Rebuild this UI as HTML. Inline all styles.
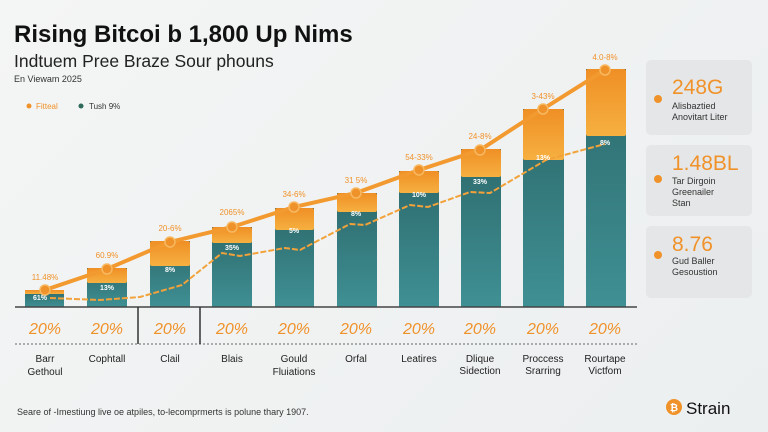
<!DOCTYPE html>
<html><head><meta charset="utf-8"><style>
body{margin:0;width:768px;height:432px;overflow:hidden;background:linear-gradient(135deg,#f4f5f5,#eceff0);font-family:"Liberation Sans",sans-serif}
svg{position:absolute;left:0;top:0}
</style></head><body>
<svg width="768" height="432" viewBox="0 0 768 432">
<defs>
<linearGradient id="or" x1="0" y1="0" x2="0" y2="1"><stop offset="0" stop-color="#ef8f25"/><stop offset="1" stop-color="#f6b040"/></linearGradient>
<linearGradient id="te" x1="0" y1="0" x2="0" y2="1"><stop offset="0" stop-color="#2d6a6c"/><stop offset="1" stop-color="#3f9094"/></linearGradient>
</defs>
<text x="14" y="42" font-size="24" font-weight="bold" fill="#111">Rising Bitcoi b 1,800 Up Nims</text>
<text x="14" y="67" font-size="17.5" fill="#222">Indtuem Pree Braze Sour phouns</text>
<text x="14" y="82" font-size="9" fill="#333">En Viewam 2025</text>
<circle cx="29" cy="106" r="2.5" fill="#f0922a"/><text x="36" y="109" font-size="8" fill="#f0922a">Fitteal</text>
<circle cx="81" cy="106" r="2.5" fill="#2d6a5a"/><text x="89" y="109" font-size="8" fill="#333">Tush 9%</text>
<g id="bars">
<rect x="25" y="290" width="39" height="17" fill="url(#te)"/><rect x="25" y="290" width="39" height="4" fill="url(#or)"/>
<rect x="87" y="268" width="40" height="39" fill="url(#te)"/><rect x="87" y="268" width="40" height="15" fill="url(#or)" rx="2"/>
<rect x="150" y="241" width="40" height="66" fill="url(#te)"/><rect x="150" y="241" width="40" height="25" fill="url(#or)" rx="2"/>
<rect x="212" y="227" width="40" height="80" fill="url(#te)"/><rect x="212" y="227" width="40" height="16" fill="url(#or)" rx="2"/>
<rect x="275" y="208" width="39" height="99" fill="url(#te)"/><rect x="275" y="208" width="39" height="22" fill="url(#or)" rx="2"/>
<rect x="337" y="193" width="40" height="114" fill="url(#te)"/><rect x="337" y="193" width="40" height="19" fill="url(#or)" rx="2"/>
<rect x="399" y="171" width="40" height="136" fill="url(#te)"/><rect x="399" y="171" width="40" height="22" fill="url(#or)" rx="2"/>
<rect x="461" y="149" width="40" height="158" fill="url(#te)"/><rect x="461" y="149" width="40" height="28" fill="url(#or)" rx="2"/>
<rect x="523" y="109" width="41" height="198" fill="url(#te)"/><rect x="523" y="109" width="41" height="51" fill="url(#or)" rx="2"/>
<rect x="586" y="69" width="40" height="238" fill="url(#te)"/><rect x="586" y="69" width="40" height="67" fill="url(#or)" rx="2"/>
</g>
<polyline points="45,290 107,269 170,242 232,227 294,207 356,193 419,170 480,150 543,109 605,70" fill="none" stroke="#f29a30" stroke-width="4"/>
<g fill="#f0922a" stroke="#f7b860" stroke-width="1.5">
<circle cx="45" cy="290" r="5"/><circle cx="107" cy="269" r="5"/><circle cx="170" cy="242" r="5"/><circle cx="232" cy="227" r="5"/><circle cx="294" cy="207" r="5"/><circle cx="356" cy="193" r="5"/><circle cx="419" cy="170" r="5"/><circle cx="480" cy="150" r="5"/><circle cx="543" cy="109" r="5"/><circle cx="605" cy="70" r="5"/></g>
<polyline points="50,298 100,300 140,297 182,285 222,253 240,256 285,248 300,250 350,224 365,225 410,205 428,207 470,192 490,193 546,160 590,148 605,144" fill="none" stroke="#f2a23a" stroke-width="2" stroke-dasharray="6,2"/>
<g font-size="8" fill="#f0922a" text-anchor="middle">
<text x="45" y="280">11.48%</text><text x="107" y="258">60.9%</text><text x="170" y="231">20-6%</text><text x="232" y="215">2065%</text><text x="294" y="197">34-6%</text><text x="356" y="183">31 5%</text><text x="419" y="160">54-33%</text><text x="480" y="139">24-8%</text><text x="543" y="99">3-43%</text><text x="605" y="60">4.0-8%</text></g>
<g font-size="7" fill="#fff" text-anchor="middle" font-weight="bold">
<text x="40" y="300">61%</text><text x="107" y="290">13%</text><text x="170" y="272">8%</text><text x="232" y="250">35%</text><text x="294" y="233">5%</text><text x="356" y="216">8%</text><text x="419" y="197">10%</text><text x="480" y="184">33%</text><text x="543" y="160">13%</text><text x="605" y="145">8%</text></g>
<line x1="15" y1="307" x2="637" y2="307" stroke="#444" stroke-width="1.5"/>
<line x1="15" y1="344" x2="637" y2="344" stroke="#666" stroke-width="1" stroke-dasharray="2,2"/>
<line x1="138" y1="307" x2="138" y2="344" stroke="#333" stroke-width="1.5"/>
<line x1="200" y1="307" x2="200" y2="344" stroke="#333" stroke-width="1.5"/>
<g font-size="16" fill="#f0922a" font-style="italic" text-anchor="middle">
<text x="45" y="334">20%</text><text x="107" y="334">20%</text><text x="170" y="334">20%</text><text x="232" y="334">20%</text><text x="294" y="334">20%</text><text x="356" y="334">20%</text><text x="419" y="334">20%</text><text x="480" y="334">20%</text><text x="543" y="334">20%</text><text x="605" y="334">20%</text></g>
<g font-size="10" fill="#222" text-anchor="middle">
<text x="45" y="362">Barr</text><text x="45" y="375">Gethoul</text>
<text x="107" y="362">Cophtall</text><text x="170" y="362">Clail</text><text x="232" y="362">Blais</text>
<text x="294" y="362">Gould</text><text x="294" y="375">Fluiations</text><text x="356" y="362">Orfal</text>
<text x="419" y="362">Leatires</text><text x="480" y="362">Dlique</text><text x="480" y="374">Sidection</text>
<text x="543" y="362">Proccess</text><text x="543" y="374">Srarring</text><text x="605" y="362">Rourtape</text><text x="605" y="374">Victfom</text></g>
<rect x="646" y="60" width="106" height="75" rx="5" fill="#e5e6e7"/>
<rect x="646" y="145" width="106" height="71" rx="5" fill="#e5e6e7"/>
<rect x="646" y="226" width="106" height="72" rx="5" fill="#e5e6e7"/>
<g fill="#f0922a"><circle cx="658" cy="99" r="4"/><circle cx="658" cy="179" r="4"/><circle cx="658" cy="255" r="4"/></g>
<g fill="#f0922a" font-size="21"><text x="672" y="94">248G</text><text x="672" y="170">1.48BL</text><text x="672" y="251">8.76</text></g>
<g fill="#333" font-size="9"><text x="672" y="109">Alisbaztied</text><text x="672" y="120">Anovitart Liter</text>
<text x="672" y="184">Tar Dirgoin</text><text x="672" y="195">Greenailer</text><text x="672" y="206">Stan</text>
<text x="672" y="264">Gud Baller</text><text x="672" y="275">Gesoustion</text></g>
<text x="17" y="415" font-size="9" fill="#333">Seare of -Imestiung live oe atpiles, to-lecomprmerts is polune thary 1907.</text>
<circle cx="674" cy="407" r="8" fill="#f0922a"/><text x="674" y="411" font-size="10" fill="#fff" text-anchor="middle" font-weight="bold">₿</text>
<text x="686" y="414" font-size="17" fill="#111">Strain</text>
</svg>
</body></html>
